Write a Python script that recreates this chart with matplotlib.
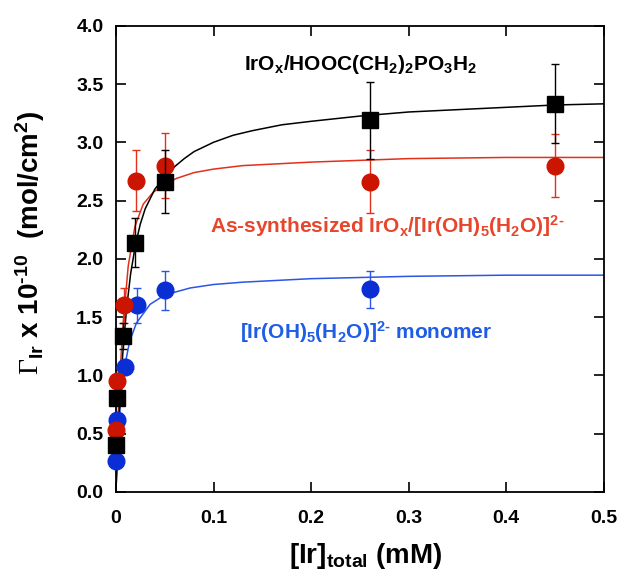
import matplotlib
matplotlib.use("Agg")
import matplotlib.pyplot as plt

plt.rcParams["font.family"] = ["Liberation Sans", "DejaVu Sans"]
plt.rcParams["font.weight"] = "bold"
plt.rcParams["mathtext.fontset"] = "custom"
plt.rcParams["mathtext.rm"] = "Liberation Sans:bold"
plt.rcParams["mathtext.it"] = "Liberation Sans:bold:italic"
plt.rcParams["mathtext.bf"] = "Liberation Sans:bold"
plt.rcParams["mathtext.sf"] = "Liberation Serif:normal"  # thin Γ like the original

# measured points: [Ir]total (mM) vs surface coverage (x 1e-10 mol/cm2)
black_x = [0.0005, 0.001, 0.0075, 0.02, 0.05, 0.26, 0.45]
black_y = [0.40, 0.81, 1.34, 2.14, 2.66, 3.19, 3.33]
black_err = [0.03, 0.05, 0.11, 0.21, 0.27, 0.33, 0.34]

red_x = [0.0005, 0.001, 0.0085, 0.021, 0.05, 0.26, 0.45]
red_y = [0.53, 0.95, 1.60, 2.67, 2.80, 2.66, 2.80]
red_err = [0.03, 0.05, 0.15, 0.26, 0.28, 0.27, 0.27]

blue_x = [0.0005, 0.001, 0.009, 0.022, 0.05, 0.26]
blue_y = [0.27, 0.62, 1.07, 1.60, 1.73, 1.74]
blue_err = [0.02, 0.04, 0.06, 0.15, 0.17, 0.16]

# fit curves
black_fit_x = [0, 0.002, 0.005, 0.008, 0.011, 0.015, 0.02, 0.025, 0.03, 0.04, 0.05, 0.06,
               0.07, 0.08, 0.1, 0.12, 0.14, 0.17, 0.2, 0.25, 0.3, 0.35, 0.4, 0.45, 0.5]
black_fit_y = [0, 0.45, 0.95, 1.30, 1.58, 1.87, 2.12, 2.30, 2.43, 2.60, 2.70, 2.79,
               2.86, 2.92, 3.00, 3.06, 3.10, 3.15, 3.18, 3.225, 3.26, 3.28, 3.30, 3.32, 3.33]

red_fit_x = [0, 0.002, 0.004, 0.0075, 0.0126, 0.0195, 0.028, 0.038, 0.05, 0.062,
             0.08, 0.1, 0.13, 0.2, 0.3, 0.4, 0.5]
red_fit_y = [0, 0.60, 1.00, 1.46, 1.94, 2.28, 2.47, 2.57, 2.64, 2.69,
             2.74, 2.77, 2.80, 2.83, 2.86, 2.87, 2.87]

blue_fit_x = [0, 0.002, 0.005, 0.009, 0.014, 0.021, 0.035, 0.05, 0.076, 0.1,
              0.13, 0.2, 0.3, 0.4, 0.5]
blue_fit_y = [0, 0.43, 0.81, 1.08, 1.29, 1.45, 1.61, 1.69, 1.75, 1.78,
              1.80, 1.83, 1.85, 1.86, 1.86]

x_ticks = [0, 0.1, 0.2, 0.3, 0.4, 0.5]
x_ticklabels = ["0", "0.1", "0.2", "0.3", "0.4", "0.5"]
y_ticks = [0.0, 0.5, 1.0, 1.5, 2.0, 2.5, 3.0, 3.5, 4.0]

RED_MK, RED_LN, RED_TX = "#cc1500", "#e3301c", "#e8452d"
BLUE_MK, BLUE_LN, BLUE_TX = "#0b2ed4", "#2a55e6", "#1f5de6"

fig = plt.figure(figsize=(6.2, 5.73), dpi=100)
ax = fig.add_axes([0.187, 0.1414, 0.787, 0.8137])

ax.plot(blue_fit_x, blue_fit_y, color=BLUE_LN, lw=1.1, zorder=2)
ax.plot(red_fit_x, red_fit_y, color=RED_LN, lw=1.1, zorder=2)
ax.plot(black_fit_x, black_fit_y, color="black", lw=1.1, zorder=2)

ax.errorbar(blue_x, blue_y, yerr=blue_err, fmt="o", ms=12, color=BLUE_MK,
            ecolor=BLUE_LN, elinewidth=1, capsize=3, capthick=1, zorder=3,
            clip_on=False)
ax.errorbar(red_x, red_y, yerr=red_err, fmt="o", ms=12, color=RED_MK,
            ecolor=RED_LN, elinewidth=1, capsize=3, capthick=1, zorder=4,
            clip_on=False)
ax.errorbar(black_x, black_y, yerr=black_err, fmt="s", ms=11, color="black",
            ecolor="black", elinewidth=1, capsize=3, capthick=1, zorder=5,
            clip_on=False)

ax.text(0.131, 3.62, r"IrO$_{\mathrm{x}}$/HOOC(CH$_{2}$)$_{2}$PO$_{3}$H$_{2}$",
        fontsize=15, color="black", fontweight="bold")
ax.text(0.096, 2.22, r"As-synthesized IrO$_{\mathrm{x}}$/[Ir(OH)$_{5}$(H$_{2}$O)]$^{2\text{-}}$",
        fontsize=15, color=RED_TX, fontweight="bold")
ax.text(0.127, 1.31, r"[Ir(OH)$_{5}$(H$_{2}$O)]$^{2\text{-}}$ monomer",
        fontsize=15, color=BLUE_TX, fontweight="bold")

ax.set_xlim(0, 0.5)
ax.set_ylim(0, 4.0)
ax.set_xticks(x_ticks)
ax.set_xticklabels(x_ticklabels)
ax.set_yticks(y_ticks)
ax.set_yticklabels([f"{v:.1f}" for v in y_ticks])
ax.tick_params(axis="both", direction="in", length=7, width=1.2,
               top=True, right=True, labelsize=14)
ax.tick_params(axis="x", pad=13)
ax.tick_params(axis="y", pad=9)
for s in ax.spines.values():
    s.set_linewidth(1.3)

ax.set_xlabel(r"[Ir]$_{\mathrm{total}}$ (mM)", fontsize=20, fontweight="bold")
ax.xaxis.set_label_coords(0.512, -0.105)
ax.set_ylabel(r"$\mathsf{Γ}_{\mathrm{Ir}}$ x 10$^{\text{-}\mathrm{10}}$  (mol/cm$^{2}$)",
              fontsize=20, fontweight="bold")
ax.yaxis.set_label_coords(-0.142, 0.535)

fig.savefig("out.png", dpi=100)
